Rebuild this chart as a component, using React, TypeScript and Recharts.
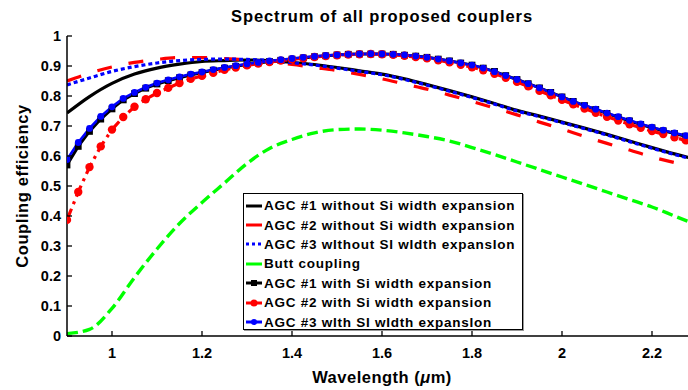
import { LineChart, Line, XAxis, YAxis } from 'recharts';

// wavelength grid (µm) for the plain curves
const wlCoarse = [0.9, 0.95, 1.0, 1.05, 1.1, 1.15, 1.2, 1.25, 1.3, 1.35, 1.4, 1.45, 1.5, 1.55, 1.6, 1.65, 1.7, 1.75, 1.8, 1.85, 1.9, 1.95, 2.0, 2.05, 2.1, 2.15, 2.2, 2.25, 2.3];

const agc1Without = [0.743, 0.798, 0.842, 0.873, 0.893, 0.906, 0.915, 0.918, 0.920, 0.918, 0.912, 0.905, 0.895, 0.884, 0.873, 0.857, 0.838, 0.818, 0.797, 0.775, 0.752, 0.733, 0.713, 0.693, 0.672, 0.650, 0.628, 0.607, 0.588];
const agc2Without = [0.850, 0.876, 0.897, 0.912, 0.922, 0.928, 0.928, 0.925, 0.920, 0.913, 0.905, 0.895, 0.885, 0.872, 0.857, 0.840, 0.823, 0.803, 0.782, 0.760, 0.737, 0.713, 0.690, 0.665, 0.642, 0.620, 0.597, 0.578, 0.560];
const agc3Without = [0.837, 0.860, 0.882, 0.898, 0.910, 0.918, 0.922, 0.923, 0.922, 0.918, 0.911, 0.903, 0.893, 0.882, 0.871, 0.855, 0.836, 0.816, 0.795, 0.773, 0.750, 0.731, 0.711, 0.691, 0.670, 0.648, 0.626, 0.605, 0.586];
const buttCoupling = [0.008, 0.022, 0.092, 0.195, 0.290, 0.375, 0.445, 0.510, 0.575, 0.625, 0.655, 0.677, 0.688, 0.690, 0.686, 0.677, 0.665, 0.650, 0.628, 0.605, 0.580, 0.555, 0.530, 0.505, 0.480, 0.455, 0.430, 0.400, 0.370];

// finer grid for the curves drawn with markers
const wlFine = [0.9, 0.925, 0.95, 0.975, 1.0, 1.025, 1.05, 1.075, 1.1, 1.125, 1.15, 1.175, 1.2, 1.225, 1.25, 1.275, 1.3, 1.325, 1.35, 1.375, 1.4, 1.425, 1.45, 1.475, 1.5, 1.525, 1.55, 1.575, 1.6, 1.625, 1.65, 1.675, 1.7, 1.725, 1.75, 1.775, 1.8, 1.825, 1.85, 1.875, 1.9, 1.925, 1.95, 1.975, 2.0, 2.025, 2.05, 2.075, 2.1, 2.125, 2.15, 2.175, 2.2, 2.225, 2.25, 2.275, 2.3];

const agc1With = [0.570, 0.632, 0.682, 0.723, 0.757, 0.787, 0.808, 0.826, 0.840, 0.851, 0.861, 0.870, 0.878, 0.886, 0.893, 0.899, 0.905, 0.910, 0.915, 0.919, 0.923, 0.927, 0.931, 0.934, 0.937, 0.939, 0.940, 0.940, 0.940, 0.939, 0.936, 0.933, 0.929, 0.923, 0.917, 0.910, 0.903, 0.893, 0.882, 0.868, 0.855, 0.841, 0.827, 0.812, 0.797, 0.782, 0.768, 0.755, 0.742, 0.729, 0.717, 0.705, 0.694, 0.684, 0.675, 0.666, 0.657];
const agc2With = [0.387, 0.480, 0.563, 0.632, 0.688, 0.730, 0.764, 0.789, 0.810, 0.827, 0.843, 0.857, 0.867, 0.877, 0.887, 0.895, 0.902, 0.908, 0.913, 0.918, 0.922, 0.926, 0.930, 0.933, 0.936, 0.938, 0.939, 0.940, 0.939, 0.937, 0.934, 0.930, 0.926, 0.919, 0.912, 0.904, 0.896, 0.886, 0.874, 0.861, 0.847, 0.832, 0.817, 0.802, 0.787, 0.772, 0.758, 0.744, 0.731, 0.718, 0.706, 0.694, 0.683, 0.673, 0.662, 0.652, 0.642];
const agc3With = [0.588, 0.645, 0.692, 0.732, 0.764, 0.792, 0.812, 0.829, 0.843, 0.854, 0.864, 0.873, 0.880, 0.888, 0.895, 0.901, 0.907, 0.912, 0.917, 0.921, 0.925, 0.929, 0.932, 0.935, 0.937, 0.939, 0.940, 0.941, 0.940, 0.939, 0.937, 0.933, 0.929, 0.923, 0.917, 0.910, 0.903, 0.893, 0.881, 0.868, 0.855, 0.841, 0.827, 0.812, 0.797, 0.782, 0.769, 0.756, 0.743, 0.731, 0.719, 0.707, 0.696, 0.686, 0.677, 0.668, 0.659];

const xTicks = [1, 1.2, 1.4, 1.6, 1.8, 2, 2.2];
const yTicks = [0, 0.1, 0.2, 0.3, 0.4, 0.5, 0.6, 0.7, 0.8, 0.9, 1];

const legendLabels = [
  'AGC #1 without Si width expansion',
  'AGC #2 without Si width expansion',
  'AGC #3 wIthout SI wIdth expansIon',
  'Butt coupling',
  'AGC #1 with Si width expansion',
  'AGC #2 with Si width expansion',
  'AGC #3 wIth SI wIdth expansIon',
];

const toRows = (xs: number[], ys: number[]) => xs.map((x, i) => ({ x, y: ys[i] }));

const FONT = '"Liberation Sans", Arial, Helvetica, sans-serif';
const PLOT_LEFT = 67;
const PLOT_TOP = 36;
const PLOT_BOTTOM = 336;

const fmt = (v: number) => String(Math.round(v * 10) / 10);

const BottomTick = (p: any) => (
  <g>
    <line x1={p.x} x2={p.x} y1={PLOT_BOTTOM} y2={PLOT_BOTTOM - 5} stroke="#000" strokeWidth={1.3} />
    <text x={p.x} y={PLOT_BOTTOM + 22} textAnchor="middle" fontSize={14.5} fontWeight="bold" fontFamily={FONT} fill="#000">
      {fmt(p.payload.value)}
    </text>
  </g>
);

const TopTick = (p: any) => (
  <line x1={p.x} x2={p.x} y1={PLOT_TOP} y2={PLOT_TOP + 5} stroke="#000" strokeWidth={1.3} />
);

const LeftTick = (p: any) => (
  <g>
    <line x1={PLOT_LEFT} x2={PLOT_LEFT + 5} y1={p.y} y2={p.y} stroke="#000" strokeWidth={1.3} />
    <text x={PLOT_LEFT - 6} y={p.y + 5} textAnchor="end" fontSize={14.5} fontWeight="bold" fontFamily={FONT} fill="#000">
      {fmt(p.payload.value)}
    </text>
  </g>
);

const squareDot = (p: any) => {
  const { cx, cy, index } = p;
  if (cx == null || cy == null) return <g key={`sq${index}`} />;
  return <rect key={`sq${index}`} x={cx - 3.4} y={cy - 3.4} width={6.8} height={6.8} fill="#000" />;
};

const circleDot = (color: string, r: number) => (p: any) => {
  const { cx, cy, index } = p;
  if (cx == null || cy == null) return <g key={`c${color}${index}`} />;
  return <circle key={`c${color}${index}`} cx={cx} cy={cy} r={r} fill={color} />;
};

function LegendSample({ i }: { i: number }) {
  const common = { x1: 1, x2: 17, y1: 7, y2: 7, strokeWidth: 3 };
  return (
    <svg width={18} height={14} style={{ display: 'block', flex: 'none' }}>
      {i === 0 && <line {...common} stroke="#000" />}
      {i === 1 && <line {...common} stroke="#ff0000" />}
      {i === 2 && <line {...common} stroke="#0000ff" strokeDasharray="3 3" />}
      {i === 3 && <line {...common} stroke="#00ff00" />}
      {i === 4 && <><line {...common} stroke="#000" /><rect x={6} y={4} width={6} height={6} fill="#000" /></>}
      {i === 5 && <><line {...common} stroke="#ff0000" /><circle cx={9} cy={7} r={3.5} fill="#ff0000" /></>}
      {i === 6 && <><line {...common} stroke="#0000ff" /><circle cx={9} cy={7} r={3} fill="#0000ff" /></>}
    </svg>
  );
}

export default function App() {
  return (
    <div style={{ position: 'relative', width: 688, height: 390, overflow: 'hidden', background: '#fff', fontFamily: FONT }}>
      <style>{'body{margin:0}'}</style>
      <LineChart width={698} height={390} margin={{ top: PLOT_TOP, right: 1, bottom: 0, left: 0 }}>
        <XAxis
          dataKey="x"
          type="number"
          domain={[0.9, 2.3]}
          ticks={xTicks}
          height={54}
          axisLine={{ stroke: '#000', strokeWidth: 1.5 }}
          tickLine={false}
          tick={BottomTick}
          allowDataOverflow
        />
        <XAxis
          xAxisId="top"
          dataKey="x"
          type="number"
          orientation="top"
          domain={[0.9, 2.3]}
          ticks={xTicks}
          height={0}
          axisLine={{ stroke: '#000', strokeWidth: 1.5 }}
          tickLine={false}
          tick={TopTick}
          allowDataOverflow
        />
        <YAxis
          type="number"
          domain={[0, 1]}
          ticks={yTicks}
          width={PLOT_LEFT}
          axisLine={{ stroke: '#000', strokeWidth: 1.5 }}
          tickLine={false}
          tick={LeftTick}
          allowDataOverflow
        />
        <Line data={toRows(wlCoarse, agc1Without)} dataKey="y" type="monotone" stroke="#000" strokeWidth={3.2} dot={false} activeDot={false} isAnimationActive={false} />
        <Line data={toRows(wlCoarse, agc2Without)} dataKey="y" type="monotone" stroke="#ff0000" strokeWidth={3.2} strokeDasharray="15 17" dot={false} activeDot={false} isAnimationActive={false} />
        <Line data={toRows(wlCoarse, agc3Without)} dataKey="y" type="monotone" stroke="#0000ff" strokeWidth={3.2} strokeDasharray="4 3" dot={false} activeDot={false} isAnimationActive={false} />
        <Line data={toRows(wlCoarse, buttCoupling)} dataKey="y" type="monotone" stroke="#00ff00" strokeWidth={3.4} strokeDasharray="11 5" dot={false} activeDot={false} isAnimationActive={false} />
        <Line data={toRows(wlFine, agc1With)} dataKey="y" type="linear" stroke="#000" strokeWidth={3} dot={squareDot} activeDot={false} isAnimationActive={false} />
        <Line data={toRows(wlFine, agc2With)} dataKey="y" type="linear" stroke="#ff0000" strokeWidth={3.2} strokeDasharray="12 5 3 5" dot={circleDot('#ff0000', 4.2)} activeDot={false} isAnimationActive={false} />
        <Line data={toRows(wlFine, agc3With)} dataKey="y" type="linear" stroke="#0000ff" strokeWidth={2.6} dot={circleDot('#0000ff', 3.4)} activeDot={false} isAnimationActive={false} />
      </LineChart>

      {/* title and axis titles */}
      <div style={{ position: 'absolute', left: 132, width: 500, top: 7, textAlign: 'center', fontSize: 16.5, fontWeight: 'bold', lineHeight: '19px', letterSpacing: 0.9 }}>
        Spectrum of all proposed couplers
      </div>
      <div style={{ position: 'absolute', left: 232, width: 300, top: 368, textAlign: 'center', fontSize: 16.5, fontWeight: 'bold', lineHeight: '19px', letterSpacing: 0.5 }}>
        Wavelength (<i>μ</i>m)
      </div>
      <div style={{ position: 'absolute', left: 22, top: 186, transform: 'translate(-50%, -50%) rotate(-90deg)', whiteSpace: 'nowrap', fontSize: 16.5, fontWeight: 'bold', lineHeight: '19px', letterSpacing: 0.6 }}>
        Coupling efficiency
      </div>

      {/* legend */}
      <div style={{ position: 'absolute', left: 243, top: 193, width: 280, height: 137, border: '1px solid #000', background: '#fff', boxShadow: '1px 1px 0 #999', boxSizing: 'border-box', paddingTop: 2 }}>
        {legendLabels.map((label, i) => (
          <div key={label} style={{ display: 'flex', alignItems: 'center', height: 19.4, paddingLeft: 1 }}>
            <LegendSample i={i} />
            <span style={{ fontSize: 13.5, fontWeight: 'bold', letterSpacing: 0.75, whiteSpace: 'nowrap', marginLeft: 1 }}>{label}</span>
          </div>
        ))}
      </div>
    </div>
  );
}
